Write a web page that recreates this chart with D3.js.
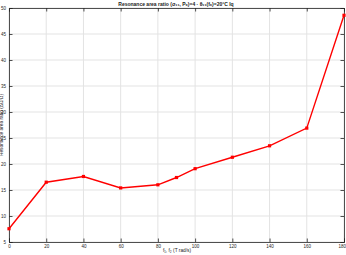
<!DOCTYPE html>
<html>
<head>
<meta charset="utf-8">
<script src="https://cdn.jsdelivr.net/npm/d3@7"></script>
<style>
  body { margin: 0; background: #fff; }
  svg text { font-family: "Liberation Sans", Arial, sans-serif; }
</style>
</head>
<body>
<div id="chart"></div>
<script>
// data
const freqs = [0, 20, 40, 60, 80, 90, 100, 120, 140, 160, 180]
const ratio = [7.55, 16.5, 17.6, 15.4, 16.0, 17.4, 19.1, 21.3, 23.5, 26.9, 48.6]
const xTicks = [0, 20, 40, 60, 80, 100, 120, 140, 160, 180]
const yTicks = [5, 10, 15, 20, 25, 30, 35, 40, 45, 50]

const titleText = "Resonance area ratio (\u03c3\u2081\u2081, P\u2080)=4 \u00b7 \u03b8\u2081\u2081(f\u2080)=20\u00b0C Iq"
const xLabel = "f\u2081, f\u2082 (T rad/s)"
const yLabel = "Resonance area ratio (\u0394\u03a9/\u03a9)"

const params = {
  fullWidth: 346,
  fullHeight: 255,
  leftMargin: 9,
  rightMargin: 2,
  topMargin: 8,
  bottomMargin: 13,
  getWidth() { return this.fullWidth - this.leftMargin - this.rightMargin },
  getHeight() { return this.fullHeight - this.topMargin - this.bottomMargin }
}

const svg = d3.select("#chart").append("svg")
  .attr("width", params.fullWidth)
  .attr("height", params.fullHeight)

const g = svg.append("g")
  .attr("transform", `translate(${params.leftMargin},${params.topMargin})`)

const w = params.getWidth()
const h = params.getHeight()

const x = d3.scaleLinear().domain([0, 180]).range([0, w])
const y = d3.scaleLinear().domain([5, 50]).range([h, 0])

// grid
g.append("g").selectAll("line")
  .data(xTicks).enter().append("line")
  .attr("x1", d => x(d)).attr("x2", d => x(d))
  .attr("y1", 0).attr("y2", h)
  .attr("stroke", "#e3e3e3").attr("stroke-width", 1)
g.append("g").selectAll("line")
  .data(yTicks).enter().append("line")
  .attr("x1", 0).attr("x2", w)
  .attr("y1", d => y(d)).attr("y2", d => y(d))
  .attr("stroke", "#e3e3e3").attr("stroke-width", 1)

// axes (box style, ticks inside)
const xAxisCall = d3.axisBottom(x).tickValues(xTicks).tickSize(-3.5).tickPadding(3)
const yAxisCall = d3.axisLeft(y).tickValues(yTicks).tickSize(-3.5).tickPadding(3)

const xAxisGroup = g.append("g")
  .attr("transform", `translate(0,${h})`)
  .call(xAxisCall)
// last label sits at the right edge, keep it inside
xAxisGroup.selectAll(".tick text")
  .attr("text-anchor", d => d === 180 ? "end" : "middle")
  .attr("dx", d => d === 180 ? "1.5" : "0")
const yAxisGroup = g.append("g").call(yAxisCall)

g.append("g").call(d3.axisTop(x).tickValues(xTicks).tickSize(-3.5).tickFormat(""))
g.append("g").attr("transform", `translate(${w},0)`)
  .call(d3.axisRight(y).tickValues(yTicks).tickSize(-3.5).tickFormat(""))

g.selectAll(".domain").attr("stroke", "#262626").attr("stroke-width", 0.8)
g.selectAll(".tick line").attr("stroke", "#262626").attr("stroke-width", 0.8)
g.selectAll(".tick text").attr("font-size", "4.5px").attr("fill", "#262626")

// line + markers
const line = d3.line()
  .x((d, i) => x(freqs[i]))
  .y(d => y(d))

g.append("path")
  .datum(ratio)
  .attr("fill", "none")
  .attr("stroke", "#ff0000")
  .attr("stroke-width", 1.4)
  .attr("d", line)

g.selectAll("rect.mk")
  .data(ratio).enter().append("rect")
  .attr("class", "mk")
  .attr("x", (d, i) => x(freqs[i]) - 1.6)
  .attr("y", d => y(d) - 1.6)
  .attr("width", 3.2).attr("height", 3.2)
  .attr("fill", "#ff0000")

// labels
svg.append("text")
  .attr("x", 176).attr("y", 5.5)
  .attr("text-anchor", "middle")
  .attr("font-size", "5px").attr("font-weight", "bold")
  .attr("fill", "#222")
  .text(titleText)

svg.append("text")
  .attr("x", 177).attr("y", 252)
  .attr("text-anchor", "middle")
  .attr("font-size", "4.8px")
  .attr("fill", "#222")
  .text(xLabel)

svg.append("text")
  .attr("transform", "translate(2.5,125) rotate(-90)")
  .attr("text-anchor", "middle")
  .attr("font-size", "4.8px")
  .attr("fill", "#222")
  .text(yLabel)
</script>
</body>
</html>
